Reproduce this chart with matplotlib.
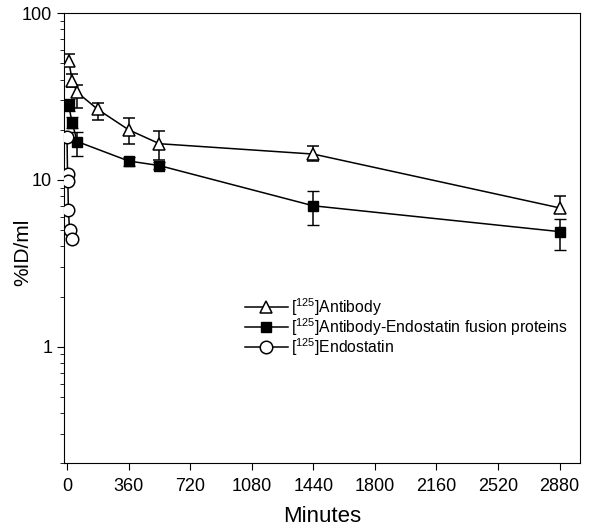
import numpy as np
from matplotlib import pyplot as plt
from matplotlib.lines import Line2D

plt.rcParams['font.family'] = ['Liberation Sans', 'DejaVu Sans']
plt.rcParams['mathtext.fontset'] = 'custom'
plt.rcParams['mathtext.rm'] = 'Liberation Sans'

# antibody (open triangles)
ab_min = [10, 30, 60, 180, 360, 540, 1440, 2880]
ab_val = [52, 39.5, 33.5, 26.5, 20, 16.5, 14.3, 6.8]
ab_lo = [4, 3.5, 6.5, 3.5, 3.5, 3.3, 1.3, 0.5]
ab_hi = [5, 3.5, 3.5, 2.5, 3.6, 3.2, 1.7, 1.2]

# fusion protein (filled squares)
fp_min = [10, 30, 60, 360, 540, 1440, 2880]
fp_val = [28, 22, 17, 13, 12.2, 7, 4.9]
fp_lo = [2, 1.5, 3, 0.8, 0.6, 1.6, 1.1]
fp_hi = [2.7, 2, 2.5, 0.8, 0.6, 1.6, 0.9]

# endostatin (open circles)
es_min = [0, 3, 5, 8, 15, 30]
es_val = [18.2, 10.9, 9.9, 6.6, 5.0, 4.4]

labels = [r'[$^{125}$]Antibody',
          r'[$^{125}$]Antibody-Endostatin fusion proteins',
          r'[$^{125}$]Endostatin']

fig = plt.figure(figsize=(5.92, 5.30), dpi=100)
ax = fig.add_axes([0.108, 0.126, 0.872, 0.849])

tri = dict(color='black', lw=1.1, marker='^', ms=9, mfc='white', mec='black', mew=1.1)
sq = dict(color='black', lw=1.1, marker='s', ms=7.5, mfc='black', mec='black')
circ = dict(color='black', lw=1.1, marker='o', ms=9, mfc='white', mec='black', mew=1.1)

ax.errorbar(ab_min, ab_val, yerr=[ab_lo, ab_hi], capsize=4, elinewidth=1.1, zorder=3, **tri)
ax.errorbar(fp_min, fp_val, yerr=[fp_lo, fp_hi], capsize=4, elinewidth=1.1, zorder=3, **sq)
ax.plot(es_min, es_val, zorder=4, **circ)

ax.set_yscale('log')
ax.set_ylim(0.2, 100)
ax.set_xlim(-18, 3000)
ax.set_xticks(np.arange(0, 2881, 360))
ax.set_yticks([1, 10, 100])
ax.set_yticklabels(['1', '10', '100'])
ax.tick_params(axis='both', which='major', direction='out', labelsize=13, length=5)
ax.tick_params(axis='x', pad=6)
ax.tick_params(axis='y', which='minor', direction='out', length=3)
ax.set_xlabel('Minutes', fontsize=16)
ax.xaxis.set_label_coords(0.5, -0.095)
ax.set_ylabel('%ID/ml', fontsize=15)
ax.yaxis.set_label_coords(-0.062, 0.469)

handles = [Line2D([], [], **tri), Line2D([], [], **sq), Line2D([], [], **circ)]
ax.legend(handles, labels, loc='upper left', bbox_to_anchor=(0.345, 0.379),
          frameon=False, fontsize=11.3, handlelength=2.7, handletextpad=0.2,
          labelspacing=-0.1, borderpad=0.2, borderaxespad=0)

fig.savefig('out.png', dpi=100)
